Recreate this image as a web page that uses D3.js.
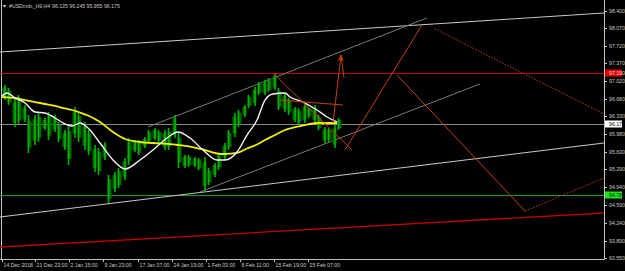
<!DOCTYPE html>
<html>
<head>
<meta charset="utf-8">
<script src="https://cdn.jsdelivr.net/npm/d3@7"></script>
<style>
  html, body { margin: 0; padding: 0; background: #000; }
  svg { display: block; }
  text { font-family: "Liberation Sans", Arial, sans-serif; }
</style>
</head>
<body>
<svg id="chart"></svg>
<script>
// chart size
let svgWidth = 625;
let svgHeight = 271;

// title bits
let symbolName = "#USDmdx_H9,H4";
let ohlcText = "96.135 96.245 95.955 96.175";

// price bars, one entry per group of 5 H4 bars
let barHigh = [96.947, 96.888, 96.692, 96.751, 96.554, 96.358, 96.358, 96.417, 96.299, 96.417,
  96.358, 96.221, 96.063, 96.162, 96.515, 96.417, 96.221, 96.063, 95.769, 95.710,
  95.828, 95.180, 95.239, 95.317, 95.514, 95.906, 95.867, 95.867, 95.926, 96.063,
  96.103, 96.063, 96.063, 96.103, 96.358, 96.024, 95.573, 95.573, 95.533, 95.514,
  95.533, 95.317, 95.415, 95.612, 95.808, 96.063, 96.397, 96.456, 96.554, 96.751,
  96.908, 97.006, 97.045, 97.084, 97.163, 96.888, 96.790, 96.692, 96.515, 96.495,
  96.594, 96.515, 96.554, 96.358, 96.122, 96.103, 96.162, 96.299];
let barLow = [96.652, 96.554, 96.122, 96.162, 96.221, 95.612, 95.769, 95.828, 96.063, 95.867,
  96.024, 95.828, 95.671, 95.376, 95.906, 95.828, 95.671, 95.573, 95.239, 95.180,
  95.474, 94.630, 94.846, 94.925, 95.082, 95.376, 95.631, 95.573, 95.710, 95.808,
  95.867, 95.808, 95.671, 95.671, 95.906, 95.317, 95.317, 95.337, 95.337, 95.278,
  94.866, 94.984, 95.141, 95.278, 95.474, 95.671, 95.926, 96.122, 96.319, 96.495,
  96.535, 96.751, 96.751, 96.810, 96.849, 96.456, 96.417, 96.358, 96.221, 96.162,
  96.201, 96.299, 96.201, 96.063, 95.808, 95.828, 95.710, 96.063];
let barsPerGroup = 5;

// moving averages, sampled at these bar numbers
let maBars = [0, 5, 13, 23, 33, 43, 53, 63, 70, 78, 86, 98, 111, 123, 138, 151, 165, 176, 188, 201,
  215, 223, 235, 245, 255, 263, 271, 283, 288, 301, 315, 325, 335];
let maFast = [96.731, 96.790, 96.692, 96.594, 96.417, 96.397, 96.299, 96.181, 96.142, 96.201,
  96.103, 95.808, 95.474, 95.298, 95.474, 95.671, 95.906, 96.024, 95.906, 95.671,
  95.474, 95.474, 95.631, 95.965, 96.260, 96.652, 96.770, 96.790, 96.711, 96.613,
  96.456, 96.319, 96.221];
let maSlow = [96.711, 96.702, 96.692, 96.652, 96.613, 96.574, 96.535, 96.486, 96.456, 96.407,
  96.348, 96.221, 96.024, 95.887, 95.828, 95.808, 95.789, 95.769, 95.739, 95.681,
  95.602, 95.592, 95.612, 95.700, 95.779, 95.867, 95.946, 96.063, 96.093, 96.152,
  96.201, 96.201, 96.201];

// price axis
let priceTicks = [98.400, 98.070, 97.720, 97.370, 97.020, 96.680, 96.330, 95.980, 95.630,
  95.290, 94.940, 94.590, 94.240, 93.890, 93.550];
// time axis
let timeTickBars = [0, 33, 67, 101, 136, 170, 204, 238, 272, 306];
let timeTickLabels = ["14 Dec 2018", "21 Dec 23:00", "2 Jan 15:00", "9 Jan 23:00", "17 Jan 07:00",
  "24 Jan 19:00", "1 Feb 03:00", "8 Feb 11:00", "15 Feb 19:00", "25 Feb 07:00"];

// horizontal levels
let bidPrice = 96.175;
let redLevel = 97.190;
let greenLevel = 94.780;

// trend lines [bar1, price1, bar2, price2]
let grayLongLines = [[-2, 97.595, 602, 98.361], [-2, 94.355, 602, 95.808]];
let grayChannel = [[146, 96.122, 425, 98.263], [198, 94.846, 478, 96.967]];
let redTrend = [[-2, 93.766, 602, 94.434]];
let orangeSolid = [[271, 97.183, 350, 95.671], [278, 96.652, 341, 96.554], [331, 96.201, 339, 97.536],
  [339, 97.536, 342, 97.085], [343, 95.671, 420, 98.125], [395, 97.143, 523, 94.473]];
let orangeDotted = [[433, 98.047, 602, 96.378], [523, 94.473, 602, 95.121]];

// plot area
let plotLeft = 2, plotRight = 604, plotTop = 0, plotBottom = 259;

let svg = d3.select("#chart")
  .attr("width", svgWidth)
  .attr("height", svgHeight);

svg.append("rect").attr("width", svgWidth).attr("height", svgHeight).attr("fill", "#000");

let x = d3.scaleLinear().domain([0, 602]).range([plotLeft, plotRight]);
let y = d3.scaleLinear().domain([93.55, 98.40]).range([258, 11]);

svg.append("defs").append("clipPath").attr("id", "plotClip")
  .append("rect").attr("x", 0).attr("y", plotTop)
  .attr("width", plotRight).attr("height", plotBottom);

let plot = svg.append("g").attr("clip-path", "url(#plotClip)");

// left border line
plot.append("line").attr("x1", 1.5).attr("x2", 1.5).attr("y1", 0).attr("y2", plotBottom)
  .attr("stroke", "#c8c8c8").attr("stroke-width", 1);

// horizontal levels
function hLine(p, color, w) {
  plot.append("line")
    .attr("x1", 0).attr("x2", plotRight)
    .attr("y1", Math.round(y(p)) + 0.5).attr("y2", Math.round(y(p)) + 0.5)
    .attr("stroke", color).attr("stroke-width", w);
}
hLine(redLevel, "#c00000", 1);
hLine(bidPrice, "#8c8c8c", 1);
hLine(greenLevel, "#1f9a1f", 1);

function drawSegs(segs, color, w, dash) {
  plot.selectAll(null)
    .data(segs)
    .enter()
    .append("line")
    .attr("x1", d => x(d[0])).attr("y1", d => y(d[1]))
    .attr("x2", d => x(d[2])).attr("y2", d => y(d[3]))
    .attr("stroke", color).attr("stroke-width", w)
    .attr("stroke-dasharray", dash || null);
}
drawSegs(grayLongLines, "#c8c8c8", 1);
drawSegs(grayChannel, "#7a7a7a", 1);
drawSegs(redTrend, "#c00000", 1.3);

// price bars: dark body for the group range, thin bright strokes on top
let barW = x(barsPerGroup) - x(0);
plot.selectAll("rect.bar")
  .data(barHigh)
  .enter()
  .append("rect")
  .attr("class", "bar")
  .attr("x", (d, i) => x(i * barsPerGroup) + 0.5)
  .attr("y", (d, i) => y(d) + (y(barLow[i]) - y(d)) * 0.15)
  .attr("width", barW - 1)
  .attr("height", (d, i) => (y(barLow[i]) - y(d)) * 0.7)
  .attr("fill", "#006a00");
plot.selectAll("line.wick")
  .data(barHigh)
  .enter()
  .append("line")
  .attr("class", "wick")
  .attr("x1", (d, i) => x(i * barsPerGroup) + (i % 2 ? 1.5 : 3))
  .attr("x2", (d, i) => x(i * barsPerGroup) + (i % 2 ? 1.5 : 3))
  .attr("y1", d => y(d))
  .attr("y2", (d, i) => y(barLow[i]))
  .attr("stroke", "#00b400").attr("stroke-width", 1.6);

// moving averages
let maLine = vals => d3.line()
  .x((d, i) => x(maBars[i]))
  .y(d => y(d))
  .curve(d3.curveMonotoneX)(vals);

plot.append("path").attr("d", maLine(maSlow))
  .attr("fill", "none").attr("stroke", "#f0f000").attr("stroke-width", 1.8);
plot.append("path").attr("d", maLine(maFast))
  .attr("fill", "none").attr("stroke", "#f4f4f4").attr("stroke-width", 1.4);

// forecast lines
drawSegs(orangeSolid, "#c8400c", 1);
drawSegs(orangeDotted, "#c8400c", 1, "1.5,1.5");

// arrow head on the up arrow
let tip = orangeSolid[2];
plot.append("path")
  .attr("d", "M" + (x(tip[2]) - 2.5) + "," + (y(tip[3]) + 6) + "L" + x(tip[2]) + "," + y(tip[3])
    + "L" + (x(tip[2]) + 2) + "," + (y(tip[3]) + 6))
  .attr("fill", "none").attr("stroke", "#c8400c").attr("stroke-width", 1);

// axes lines
svg.append("line").attr("x1", 0).attr("x2", plotRight + 0.5)
  .attr("y1", plotBottom + 0.5).attr("y2", plotBottom + 0.5)
  .attr("stroke", "#c0c0c0");
svg.append("line").attr("x1", plotRight + 0.5).attr("x2", plotRight + 0.5)
  .attr("y1", 0).attr("y2", plotBottom + 0.5)
  .attr("stroke", "#c0c0c0");

// price labels
let pAxis = svg.append("g");
pAxis.selectAll("line")
  .data(priceTicks)
  .enter()
  .append("line")
  .attr("x1", plotRight).attr("x2", plotRight + 3)
  .attr("y1", d => Math.round(y(d)) + 0.5).attr("y2", d => Math.round(y(d)) + 0.5)
  .attr("stroke", "#c0c0c0");
pAxis.selectAll("text")
  .data(priceTicks)
  .enter()
  .append("text")
  .attr("x", plotRight + 5)
  .attr("y", d => y(d) + 2)
  .attr("font-size", 5.2)
  .attr("fill", "#c8c8c8")
  .text(d => d.toFixed(3));

// time labels
let tAxis = svg.append("g");
tAxis.selectAll("line")
  .data(timeTickBars)
  .enter()
  .append("line")
  .attr("x1", d => Math.round(x(d)) + 0.5).attr("x2", d => Math.round(x(d)) + 0.5)
  .attr("y1", plotBottom).attr("y2", plotBottom + 3)
  .attr("stroke", "#c0c0c0");
tAxis.selectAll("text")
  .data(timeTickLabels)
  .enter()
  .append("text")
  .attr("x", (d, i) => x(timeTickBars[i]) + 1.5)
  .attr("y", 267)
  .attr("font-size", 5.2)
  .attr("fill", "#c8c8c8")
  .text(d => d);

// price tags
let tags = [
  { p: redLevel, bg: "#e00000", fg: "#ffd8d8" },
  { p: bidPrice, bg: "#ffffff", fg: "#000000" },
  { p: greenLevel, bg: "#20e020", fg: "#003000" }
];
tags.forEach(t => {
  let cy = Math.round(y(t.p));
  svg.append("rect").attr("x", plotRight + 1).attr("y", cy - 3.5)
    .attr("width", 17).attr("height", 7).attr("fill", t.bg);
  svg.append("text").attr("x", plotRight + 5).attr("y", cy + 2)
    .attr("font-size", 5.2).attr("fill", t.fg).text(t.p.toFixed(3));
});

// title
svg.append("path").attr("d", "M2.5,5 L6.5,5 L4.5,7.5 Z").attr("fill", "#c8c8c8");
svg.append("text").attr("x", 9).attr("y", 8).attr("font-size", 5.2).attr("fill", "#c8c8c8")
  .text(symbolName);
svg.append("text").attr("x", 52).attr("y", 8).attr("font-size", 5.2).attr("fill", "#c8c8c8")
  .text(ohlcText);
</script>
</body>
</html>
